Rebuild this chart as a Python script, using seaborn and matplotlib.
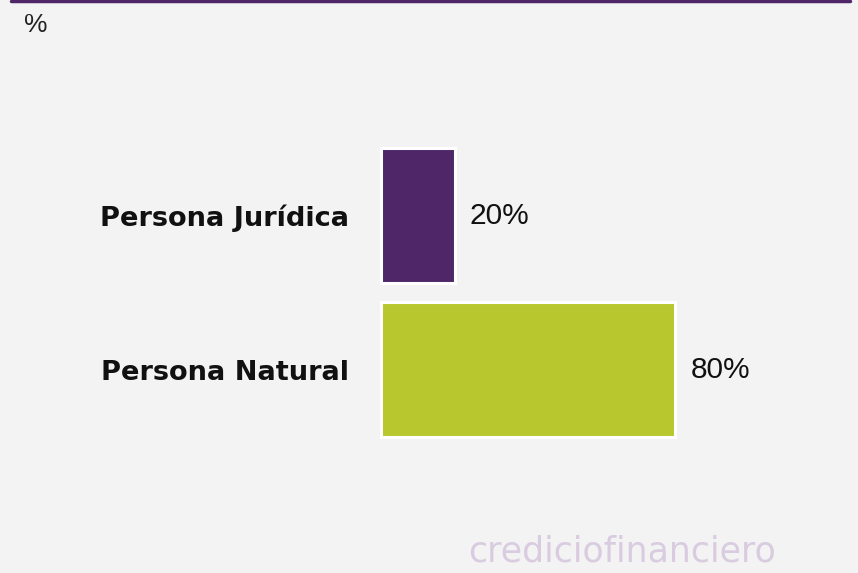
import matplotlib.pyplot as plt
import seaborn as sns
import pandas as pd
from matplotlib.lines import Line2D

# Data
categories = ['Persona Jurídica', 'Persona Natural']
shares = [20, 80]
bar_colors = ['#4f2768', '#b8c72e']

sns.set_theme(style="white")
plt.rcParams['font.family'] = ['DejaVu Sans']

BG = '#f3f3f3'
W, H = 858, 573

fig = plt.figure(figsize=(W / 100, H / 100), dpi=100, facecolor=BG)
ax = fig.add_axes([378 / W, 1 - 500 / H, 371 / W, 400 / H])
ax.set_facecolor(BG)

df = pd.DataFrame({'tipo': categories, 'pct': shares})
sns.barplot(data=df, x='pct', y='tipo', hue='tipo', palette=bar_colors,
            legend=False, width=0.88, edgecolor='white', linewidth=2.2,
            saturation=1, ax=ax)

for cont in ax.containers:
    ax.bar_label(cont, fmt='%d%%', padding=11, fontsize=21.5,
                 family='Liberation Sans', color='#111111')

ax.set_xlim(-0.8, 100)
ax.set_ylim(1.847, -0.75)
ax.set_xlabel('')
ax.set_ylabel('')
ax.set_xticks([])
ax.tick_params(axis='y', left=False, pad=15)
for lab in ax.get_yticklabels():
    lab.set_fontsize(19.6)
    lab.set_fontweight('bold')
    lab.set_color('#111111')
sns.despine(ax=ax, left=True, bottom=True)

# top purple rule and the "%" unit mark
fig.add_artist(Line2D([11 / W, 850 / W], [1 - 1 / H, 1 - 1 / H],
                      color='#4f2768', linewidth=2.5, transform=fig.transFigure))
fig.text(24 / W, 1 - 32 / H, '%', fontsize=19, family='Liberation Sans',
         color='#222222', ha='left', va='baseline')

# faint watermark at the bottom
fig.text(468 / W, 1 - 562 / H, 'crediciofinanciero', fontsize=25,
         color='#d9cce0', ha='left', va='baseline')

fig.savefig('out.png', dpi=100, facecolor=BG)
